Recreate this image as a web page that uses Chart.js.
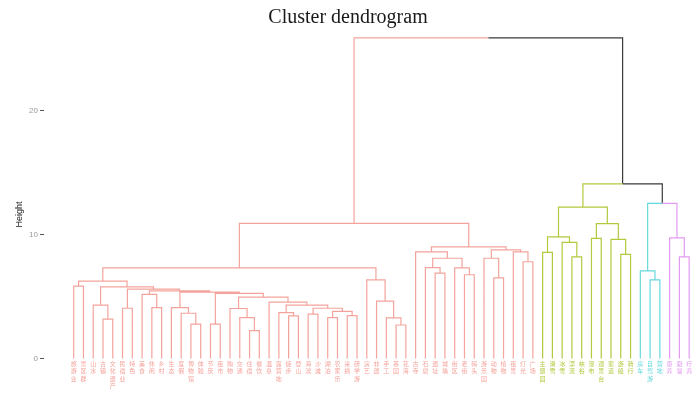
<!DOCTYPE html>
<html>
<head>
<meta charset="utf-8">
<title>Cluster dendrogram</title>
<script src="https://cdn.jsdelivr.net/npm/chart.js@4.4.0/dist/chart.umd.min.js"></script>
<style>
  html, body { margin: 0; padding: 0; background: #fff; }
  #wrap { width: 697px; height: 406px; }
</style>
</head>
<body>
<div id="wrap"><canvas id="grafico"></canvas></div>
<script>
// Folhas na ordem do dendrograma
const leafLabels = [
  "旅游业", "景区群", "山水", "古镇", "文化遗产", "民宿业", "特色", "美食",
  "休闲", "乡村", "生态", "度假", "博物馆", "体验", "节庆", "夜市",
  "购物", "交通", "住宿", "餐饮", "温泉", "露营地", "徒步", "登山",
  "海滨", "沙滩", "湖泊", "农家乐", "采摘", "研学游", "演艺", "非遗",
  "手工", "茶园", "花海", "古寺", "石窟", "遗址", "城墙", "街区",
  "老街", "码头", "游乐园", "动物", "植物", "夜景", "灯光", "广场",
  "主题园", "滑雪", "冰雪", "漂流", "峡谷", "瀑布", "观景台", "索道",
  "游船", "骑行", "房车", "自驾游", "营地", "康养", "避暑", "疗养"
];

// Estilo hclust: negativo = folha, positivo = fusão anterior
const merges = [
  [-4, -5], [-3, 1], [-1, -2], [-6, -7], [-9, -10], [-8, 5], [-13, -14], [-12, 7],
  [-11, 8], [-15, -16], [-19, -20], [-18, 11], [-17, 12], [-23, -24], [-22, 14], [-25, -26],
  [-27, -28], [-29, -30], [17, 18], [16, 19], [15, 20], [-21, 21], [13, 22], [10, 23],
  [9, 24], [6, 25], [4, 26], [2, 27], [3, 28], [-34, -35], [-33, 30], [-32, 31],
  [-31, 32], [29, 33], [-38, -39], [-37, 35], [-41, -42], [-40, 37], [36, 38], [-36, 39],
  [-44, -45], [-43, 41], [-47, -48], [-46, 43], [42, 44], [40, 45], [34, 46], [-49, -50],
  [-52, -53], [-51, 49], [48, 50], [-54, -55], [-57, -58], [-56, 53], [52, 54], [51, 55],
  [-60, -61], [-59, 57], [-63, -64], [-62, 59], [58, 60], [56, 61], [47, 62]
];

const heights = [
  3.17, 4.3, 5.84, 4.05, 4.1, 5.17, 2.77, 3.65,
  4.1, 2.77, 2.24, 3.3, 4.03, 3.44, 3.7, 3.57,
  3.3, 3.45, 3.8, 4.05, 4.3, 4.55, 4.95, 5.25,
  5.35, 5.45, 5.6, 5.78, 6.24, 2.7, 3.28, 4.62,
  6.34, 7.3, 6.88, 7.33, 6.75, 7.3, 8.08, 8.6,
  6.5, 8.08, 7.8, 8.6, 8.75, 9.0, 10.9, 8.56,
  8.2, 9.36, 9.8, 9.68, 8.4, 9.6, 10.88, 12.2,
  6.34, 7.06, 8.2, 9.73, 12.5, 14.08, 25.84
];

const clusterSizes = [48, 10, 3, 3];
const clusterColors = ["#F4A39C", "#B5C83E", "#66D8DC", "#E39BF0"];
const rootColor = "#3a3a3a";
const heightTicks = [0, 10, 20];

// Grupo de cada folha
const leafCluster = [];
clusterSizes.forEach((n, c) => { for (let i = 0; i < n; i++) leafCluster.push(c); });

// Monta os segmentos em cotovelo de cada fusão
const nodes = [];
const segs = {};
function info(id) {
  if (id < 0) return { x: -id, h: 0, cl: leafCluster[-id - 1] };
  return nodes[id - 1];
}
merges.forEach(([a, b], k) => {
  const A = info(a), B = info(b);
  const P = { x: (A.x + B.x) / 2, h: heights[k], cl: A.cl === B.cl ? A.cl : -1 };
  [A, B].forEach(C => {
    (segs[C.cl] = segs[C.cl] || []).push(
      { x: C.x, y: C.h }, { x: C.x, y: P.h }, { x: P.x, y: P.h }, { x: P.x, y: null }
    );
  });
  nodes.push(P);
});

const datasets = Object.keys(segs).map(cl => ({
  data: segs[cl],
  borderColor: cl == -1 ? rootColor : clusterColors[cl],
  borderWidth: 1.2,
  pointRadius: 0,
  spanGaps: false,
  tension: 0,
  borderJoinStyle: "miter"
}));

// Rótulos das folhas, empilhados na vertical
const leafLabelPlugin = {
  id: "leafLabels",
  afterDatasetsDraw(chart) {
    const { ctx, scales: { x, y } } = chart;
    ctx.save();
    ctx.font = "6px 'Noto Sans CJK SC'";
    ctx.textAlign = "center";
    ctx.textBaseline = "top";
    const y0 = y.getPixelForValue(0) + 2;
    leafLabels.forEach((lab, i) => {
      ctx.fillStyle = clusterColors[leafCluster[i]];
      [...lab].forEach((ch, j) => ctx.fillText(ch, x.getPixelForValue(i + 1), y0 + j * 7.5));
    });
    ctx.restore();
  }
};

Chart.defaults.font.family = "'Liberation Sans', sans-serif";

const ctx = document.getElementById("grafico").getContext("2d");
new Chart(ctx, {
  type: "line",
  data: { datasets },
  plugins: [leafLabelPlugin],
  options: {
    responsive: true,
    maintainAspectRatio: false,
    animation: false,
    layout: { padding: { left: 0, right: 1, top: 0, bottom: 4 } },
    plugins: {
      legend: { display: false },
      tooltip: { enabled: false },
      title: {
        display: true,
        text: "Cluster dendrogram",
        color: "#1a1a1a",
        font: { family: "'Liberation Serif', serif", size: 20, weight: "normal" },
        padding: { top: 6, bottom: 0 }
      }
    },
    scales: {
      x: {
        type: "linear",
        display: false,
        min: -2.04,
        max: 64.7
      },
      y: {
        type: "linear",
        min: -3.28,
        max: 26.48,
        border: { display: false },
        grid: { drawOnChartArea: false, drawTicks: true, tickLength: 4, tickColor: "#555" },
        ticks: { color: "#999", font: { size: 8 }, padding: 2 },
        title: {
          display: true,
          text: "Height",
          color: "#222",
          font: { size: 9 },
          padding: { top: 14, bottom: 0 }
        },
        afterBuildTicks: axis => { axis.ticks = heightTicks.map(v => ({ value: v })); },
        afterFit: axis => { axis.width = 44; }
      }
    }
  }
});
</script>
</body>
</html>
